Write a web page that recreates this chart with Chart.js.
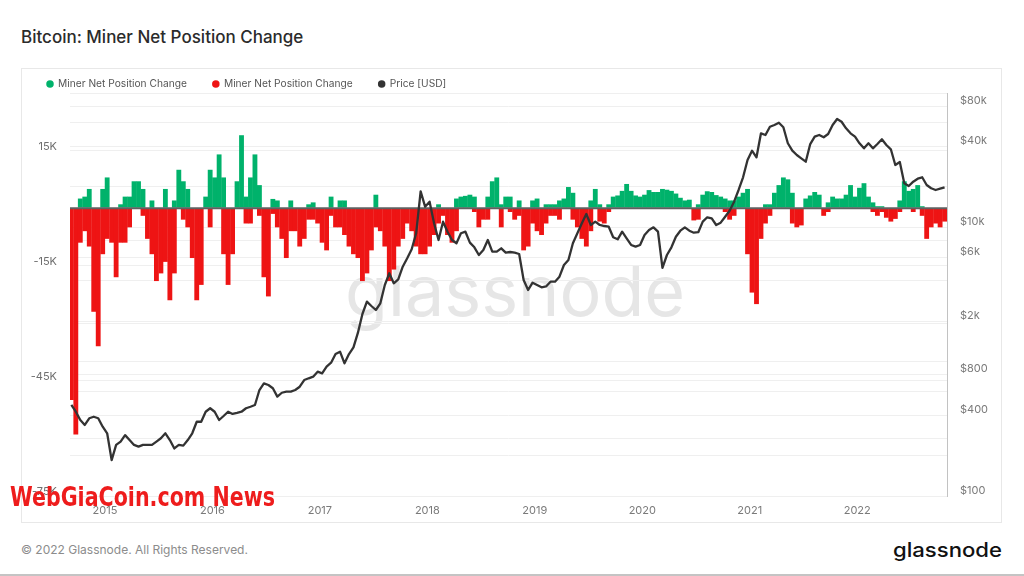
<!DOCTYPE html>
<html>
<head>
<meta charset="utf-8">
<script src="https://cdn.jsdelivr.net/npm/chart.js@4.4.0/dist/chart.umd.min.js"></script>
<style>
html,body{margin:0;padding:0;background:#fff;}
body{width:1024px;height:576px;position:relative;overflow:hidden;font-family:Inter,"Noto Sans",sans-serif;}
#title{position:absolute;left:21px;top:27px;font-size:17px;line-height:20px;font-weight:500;color:#2b2b2b;white-space:nowrap;}
#box{position:absolute;left:21px;top:68px;width:979px;height:453px;border:1px solid #e8e8e8;}
#wm{position:absolute;left:345px;top:256px;font-size:70px;line-height:70px;color:#e6e6e6;font-weight:400;white-space:nowrap;z-index:0;}
#wrap{position:absolute;left:21px;top:53px;width:981px;height:470px;z-index:1;}
#foot{position:absolute;left:21px;top:543px;font-size:12px;line-height:14px;color:#8c8c8c;white-space:nowrap;}
#logo{position:absolute;left:893px;top:539px;font-size:20px;line-height:22px;color:#111;font-weight:500;white-space:nowrap;transform-origin:0 50%;}
#news{position:absolute;left:10px;top:484px;font-family:"DejaVu Sans Condensed","DejaVu Sans",sans-serif;font-weight:bold;font-size:26px;line-height:26px;color:#ee1c1c;white-space:nowrap;z-index:3;transform-origin:0 50%;}
#bline{position:absolute;left:0;top:574px;width:1024px;height:2px;background:#c4c4c4;}
</style>
</head>
<body>
<div id="title">Bitcoin: Miner Net Position Change</div>
<div id="box"></div>
<div id="wm">glassnode</div>
<div id="wrap"><canvas id="c" width="981" height="470"></canvas></div>
<div id="foot">© 2022 Glassnode. All Rights Reserved.</div>
<div id="logo">glassnode</div>
<div id="news">WebGiaCoin.com News</div>
<div id="bline"></div>
<script>
// Half-month periods starting September 2014 (values in thousands of BTC)
const inflowK = [
 0,0,2.5,3,5,0,0,5,8,0,
 0,1,3,3,7,7,5,0,2,0,
 0,5,0,2,10,7,5,0,0,0,
 3,10,8,14,8,0,0,7,19,3,
 8,14,6,0,0,2.4,2,0,0,2,
 0,0,0,1,1.5,0,0,0,3,0,
 2,2,0,0,0,0,0,0,3.5,0,
 0,0,0,0,0,0,0,0,0,0,
 0,0,1,0,0,0,2.5,3,3.2,3.5,
 3,0,0,3,7,8,1,3,3,0,
 2,0,0,2,2.5,0,1,1,1,2,
 2.5,5.5,4,0,0,0,2,5,1,0,
 1,3,3.3,4.5,6.3,4.5,3.3,3,3.5,4.7,
 4.2,4.2,5,4.8,4.5,3.8,2.7,2,2.2,0,
 1,3.5,4.4,4.2,3.4,3,2.5,2,2,3,
 4,5,0,0,0,1,1,4,6,8,
 7.5,4,0,0,2.5,3.3,4.2,3.5,0,1.5,
 3,2.5,2.5,3.5,6,3,5.3,6.5,3,1.5,
 0.5,0.5,0,0,0,2,7,4.5,5,6,
 0.5,0,0,0,0,0
];
const outflowK = [
 -50,-59,-9,-6,-10,-27,-36,-12,-8,-9,
 -18,-9,-9,-5,0,0,-2,-8,-12,-19,
 -17,-14,-24,-17,0,-3,-5,-13,-24,-20,
 0,-5,0,0,-12,-20,-12,0,0,-4,
 -4,0,-2,-18,-23,-1.5,-5,-8,-13,-6,
 -6,-10,-8,-3,-3,-4,-9,-11,-2,-5,
 -5,-7,-10,-12,-13,-19,-17,-11,-5,-6,
 -10,-19,-16,-10,-8,-4,-6,-10,-12,-12,
 -10,-7,-4,-2,-7,-9,-6,0,0,0,
 -1,-5,-3,-3,0,0,-5,0,-1,-3,
 -2,-11,-10,-4,-6,-7,-4,-2,-2,-3,
 0,0,-3,-5,-8,-10,-6,0,-3.5,-4,
 -1,0,0,0,0,0,0,0,0,0,
 0,0,0,0,0,0,0,0,0,-3.2,
 -3,0,0,0,0,0,-1,-3,-2,0,
 0,-12,-22,-25,-8,-4,-2,0,0,0,
 0,-4,-5,-4.5,0,0,0,0,-2,-1,
 0,0,0,0,0,0,0,0,0,-1,
 -2,-1,-2.5,-3.5,-2.8,-1,0,0,-1,0,
 -2,-8,-5,-4,-5,-3.5
];
const priceUSD = [
 476,424,368,338,379,389,379,328,293,185,
 240,254,284,261,240,233,240,240,240,254,
 269,293,261,226,240,237,261,293,357,357,
 424,450,424,368,394,424,408,415,424,450,
 462,476,615,690,670,634,549,587,598,598,
 615,651,730,752,773,842,819,918,982,1140,
 1187,972,1140,1279,1643,2264,2797,2597,2425,2720,
 3722,4548,3833,4105,5093,5884,6863,9030,18500,14250,
 15520,10720,8050,11020,9280,8050,7606,9030,9280,7690,
 7100,6224,6780,8050,6587,6587,6980,6476,6552,6476,
 6332,4055,3416,3872,3722,3577,3630,3938,3938,4292,
 5244,5714,7606,9030,10720,12570,10410,11020,10410,10230,
 10110,8430,8145,9280,8285,7390,7178,7390,8770,9550,
 10000,9280,5000,6224,7100,8514,9440,10000,9440,9120,
 9200,11020,11880,11670,10410,10830,12000,13300,15520,18970,
 23580,31710,37200,33200,50100,48700,56100,57800,60100,55550,
 42240,37200,34550,32650,30800,41700,47300,48700,46800,49500,
 57800,64080,61100,54600,50100,47300,42240,38750,42240,38750,
 41700,45200,41000,38100,29100,30650,21270,20300,21870,23020,
 23580,20660,19530,18970,19400,19860
];
const yearTicks = [2015,2016,2017,2018,2019,2020,2021,2022];
const leftGrid = [-75,-60,-45,-30,-15,0,15,30];
const leftLabels = [-75,-45,-15,15];
const rightGrid = [100,200,400,600,800,1000,2000,4000,6000,8000,10000,20000,40000,60000,80000,100000];
const rightLabels = [100,400,800,2000,6000,10000,40000,80000];

const GREEN = '#00b26b', RED = '#ee1414', DARK = '#333333';

// period centres (decimal years) for each half-month
const xs = [];
{ let y = 2014, m = 8, h = 0;
  while (xs.length < priceUSD.length) {
    xs.push(y + m / 12 + h / 24 + 1 / 48);
    h++; if (h === 2) { h = 0; m++; if (m === 12) { m = 0; y++; } }
  } }

Chart.defaults.font.family = 'Inter, "Noto Sans", sans-serif';
Chart.defaults.font.size = 11;
Chart.defaults.color = '#7a7a7a';

const legendSpacer = {
  id: 'legendSpacer',
  beforeInit(chart) {
    const fit = chart.legend.fit;
    chart.legend.fit = function () { fit.bind(chart.legend)(); this.height = 40; };
  }
};
const zeroLine = {
  id: 'zeroLine',
  beforeDatasetDraw(chart, args) {
    if (args.index !== 2) return;
    const y = chart.scales.y.getPixelForValue(0);
    const a = chart.chartArea, ctx = chart.ctx;
    ctx.save();
    ctx.strokeStyle = '#606060';
    ctx.lineWidth = 2;
    ctx.beginPath(); ctx.moveTo(a.left, y); ctx.lineTo(a.right, y); ctx.stroke();
    ctx.restore();
  }
};

new Chart(document.getElementById('c'), {
  data: {
    datasets: [
      { type: 'bar', label: 'Miner Net Position Change', data: inflowK.map((v, i) => ({ x: xs[i], y: v })),
        backgroundColor: GREEN, borderWidth: 0, grouped: false, barPercentage: 1.08, categoryPercentage: 1,
        yAxisID: 'y', order: 1 },
      { type: 'bar', label: 'Miner Net Position Change', data: outflowK.map((v, i) => ({ x: xs[i], y: v })),
        backgroundColor: RED, borderWidth: 0, grouped: false, barPercentage: 1.08, categoryPercentage: 1,
        yAxisID: 'y', order: 2 },
      { type: 'line', label: 'Price [USD]', data: priceUSD.map((v, i) => ({ x: xs[i], y: v })),
        borderColor: DARK, backgroundColor: DARK, borderWidth: 2.3, pointRadius: 0, tension: 0,
        borderJoinStyle: 'round', yAxisID: 'y1', order: 0 }
    ]
  },
  options: {
    responsive: false,
    animation: false,
    layout: { padding: 0 },
    plugins: {
      tooltip: { enabled: false },
      legend: {
        position: 'top', align: 'start',
        labels: {
          usePointStyle: true, boxWidth: 6, boxHeight: 5.3, padding: 26, color: '#555',
          font: { size: 10.2 },
          generateLabels(chart) {
            const cols = [GREEN, RED, DARK];
            return chart.data.datasets.map((ds, i) => ({
              text: ds.label, fillStyle: cols[i], strokeStyle: cols[i], lineWidth: 0,
              pointStyle: 'circle', hidden: false, datasetIndex: i, fontColor: '#555'
            }));
          }
        }
      }
    },
    scales: {
      x: {
        type: 'linear', min: 2014.675, max: 2022.835, offset: false,
        grid: { display: false, drawTicks: false, offset: false }, border: { display: false },
        afterBuildTicks(s) { s.ticks = yearTicks.map(v => ({ value: v })); },
        afterFit(s) { s.height = 27; },
        ticks: { padding: 8, autoSkip: false, maxRotation: 0, color: '#7a7a7a', callback: v => String(v) }
      },
      y: {
        type: 'linear', position: 'left', min: -75, max: 30,
        grid: { color: '#efefef', drawTicks: false }, border: { display: false },
        afterBuildTicks(s) { s.ticks = leftGrid.map(v => ({ value: v })); },
        afterFit(s) { s.width = 49; },
        ticks: { padding: 13, autoSkip: false, labelOffset: -4, color: '#6f6f6f',
          callback: v => leftLabels.includes(v) ? v + 'K' : '' }
      },
      y1: {
        type: 'logarithmic', position: 'right', min: 100, max: 100000,
        grid: { color: '#efefef', drawTicks: false }, border: { display: true, color: '#c2c2c2', width: 1 },
        afterBuildTicks(s) { s.ticks = rightGrid.map(v => ({ value: v })); },
        afterFit(s) { s.width = 55; },
        ticks: { padding: 13, autoSkip: false, labelOffset: -5.5, color: '#7a7a7a',
          callback: v => rightLabels.includes(v) ? (v >= 1000 ? '$' + (v / 1000) + 'k' : '$' + v) : '' }
      }
    }
  },
  plugins: [legendSpacer, zeroLine]
});

function fitWidth(id, w) {
  const el = document.getElementById(id);
  el.style.transform = 'none';
  const cw = el.getBoundingClientRect().width;
  if (cw > 0) el.style.transform = 'scaleX(' + (w / cw) + ')';
}
fitWidth('news', 265); fitWidth('logo', 109);
if (document.fonts && document.fonts.ready) document.fonts.ready.then(() => { fitWidth('news', 265); fitWidth('logo', 109); });
</script>
</body>
</html>
